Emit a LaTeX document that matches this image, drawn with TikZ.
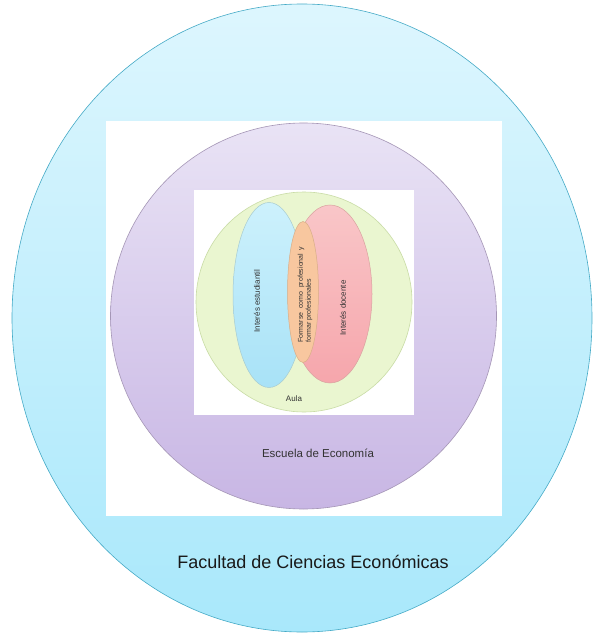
\documentclass[tikz,border=0pt]{standalone}
\usepackage{fontspec}
\setmainfont{Liberation Sans}
\usepackage{tikz}
\usetikzlibrary{shapes.geometric}

\definecolor{facTop}{HTML}{DDF6FE}
\definecolor{facBot}{HTML}{A9E8FB}
\definecolor{facLine}{HTML}{45AAC6}
\definecolor{escTop}{HTML}{E9E3F5}
\definecolor{escBot}{HTML}{C8B6E4}
\definecolor{escLine}{HTML}{A596B6}
\definecolor{aulaFill}{HTML}{EAF6D0}
\definecolor{aulaLine}{HTML}{C9DCA6}
\definecolor{estTop}{HTML}{CDF1FC}
\definecolor{estBot}{HTML}{A8E2F7}
\definecolor{estLine}{HTML}{A8CCD0}
\definecolor{docTop}{HTML}{F9C6C8}
\definecolor{docBot}{HTML}{F6A6AC}
\definecolor{docLine}{HTML}{D9A3A0}
\definecolor{forFill}{HTML}{F8C79F}
\definecolor{forLine}{HTML}{D8AE88}

\begin{document}
\begin{tikzpicture}[x=1pt, y=-1pt,
    zone/.style={ellipse, inner sep=0pt, anchor=center},
    label/.style={font=\fontsize{8}{9}\selectfont, text=black!80},
  ]
    \useasboundingbox (0,0) rectangle (592,636);
    % Facultad
    \node[zone, draw=facLine, line width=0.6pt, top color=facTop, bottom color=facBot,
          minimum width=580pt, minimum height=628pt] (fac) at (302,318) {};
    \fill[white] (106,121) rectangle (502,516);
    % Escuela
    \node[zone, draw=escLine, line width=0.6pt, top color=escTop, bottom color=escBot,
          minimum width=386pt, minimum height=386pt] (esc) at (303.5,316) {};
    \fill[white] (194,190) rectangle (414,415);
    % Aula
    \node[zone, draw=aulaLine, line width=0.6pt, fill=aulaFill,
          minimum width=216pt, minimum height=220pt] (aula) at (304,302) {};
    \node[zone, draw=estLine, line width=0.5pt, top color=estTop, bottom color=estBot,
          minimum width=72pt, minimum height=185pt] (est) at (269,295) {};
    \node[zone, draw=docLine, line width=0.5pt, top color=docTop, bottom color=docBot,
          minimum width=84pt, minimum height=178pt] (doc) at (330,294) {};
    \node[zone, draw=forLine, line width=0.5pt, fill=forFill,
          minimum width=31pt, minimum height=141pt] (for) at (303,292) {};

    \node[label, rotate=90] (estTxt) at (257,301) {Interés estudiantil};
    \node[label, rotate=90] (docTxt) at (343,308) {Interés docente};
    \node[label, rotate=90, font=\fontsize{7}{8}\selectfont, text width=96pt, align=justify,
          inner sep=0pt] (forTxt) at (305,294.5) {Formarse como profesional y formar profesionales};
    \node[label] (aulaTxt) at (294,399) {Aula};
    \node[font=\fontsize{11.5}{13}\selectfont, text=black!80] (escTxt) at (318,453) {Escuela de Economía};
    \node[font=\fontsize{18}{20}\selectfont, text=black!90] (facTxt) at (313,562) {Facultad de Ciencias Económicas};
\end{tikzpicture}
\end{document}
